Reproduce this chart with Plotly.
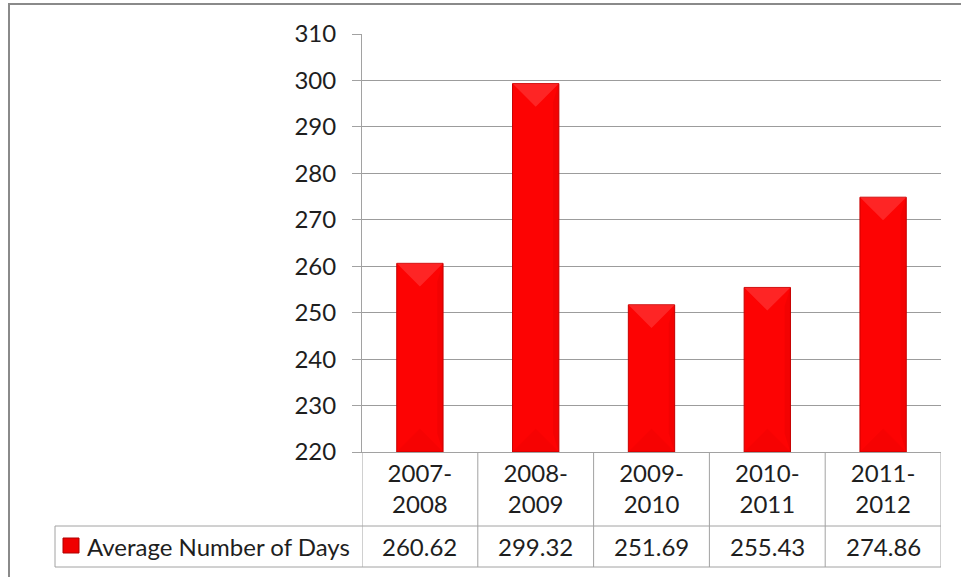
import plotly.graph_objects as go

categories = ["2007-2008", "2008-2009", "2009-2010", "2010-2011", "2011-2012"]
values = [260.62, 299.32, 251.69, 255.43, 274.86]
value_labels = ["260.62", "299.32", "251.69", "255.43", "274.86"]
series_name = "Average Number of Days"
y_ticks = list(range(220, 311, 10))

W, H = 961, 577
ML, MR, MT, MB = 362, 20, 34, 125
PW, PH = W - ML - MR, H - MT - MB
YMIN, YMAX = 220, 310
BARW = 0.4

FONT = "Lato"
FS = 24
TXT = "#1e1e1e"
GRID = "#9c9c9c"
BORDER = "#a2a2a2"

def px_y(py):  # pixel row -> paper y
    return (MT + PH - py) / PH

def px_x(px):  # pixel col -> paper x
    return (px - ML) / PW

x_idx = list(range(len(categories)))
tick_text = [c.replace("-", "-<br>") for c in categories]

fig = go.Figure()
fig.add_trace(go.Bar(
    x=x_idx, y=[v - YMIN for v in values], base=YMIN, width=BARW,
    marker=dict(color="#fd0303", line=dict(color="#c80000", width=1)),
    name=series_name, showlegend=False, hoverinfo="skip",
))

# bevel facets (derived from the data values and axis scale)
units_per_px = (YMAX - YMIN) / PH
cat_px = PW / len(categories)
d = (BARW / 2) * cat_px * units_per_px
for i, v in zip(x_idx, values):
    l, r = i - BARW / 2, i + BARW / 2
    fig.add_trace(go.Scatter(
        x=[l, r, i, l], y=[v, v, v - d, v], fill="toself", mode="lines",
        line=dict(width=0), fillcolor="rgba(255,90,90,0.4)",
        showlegend=False, hoverinfo="skip"))
    fig.add_trace(go.Scatter(
        x=[l, r, i, l], y=[YMIN, YMIN, YMIN + d, YMIN], fill="toself", mode="lines",
        line=dict(width=0), fillcolor="rgba(190,0,0,0.10)",
        showlegend=False, hoverinfo="skip"))
    fig.add_trace(go.Scatter(
        x=[r - 0.05, r, r, r - 0.05, r - 0.05], y=[v - d * 0.8, v, YMIN, YMIN + d * 0.8, v - d * 0.8],
        fill="toself", mode="lines", line=dict(width=0), fillcolor="rgba(170,0,0,0.12)",
        showlegend=False, hoverinfo="skip"))

shapes = []
line = dict(color=BORDER, width=1)
# table verticals
for k in range(len(categories) + 1):
    shapes.append(dict(type="line", xref="x", yref="paper", x0=k - 0.5, x1=k - 0.5,
                       y0=0, y1=px_y(567), line=line, layer="above"))
# table horizontals
for py in (526, 567):
    shapes.append(dict(type="line", xref="paper", yref="paper", x0=px_x(55), x1=1,
                       y0=px_y(py), y1=px_y(py), line=line))
shapes.append(dict(type="line", xref="paper", yref="paper", x0=px_x(55), x1=px_x(55),
                   y0=px_y(526), y1=px_y(567), line=line))
# legend key
shapes.append(dict(type="rect", xref="paper", yref="paper", x0=px_x(63), x1=px_x(79),
                   y0=px_y(553), y1=px_y(538), fillcolor="#f00000",
                   line=dict(color="#b00000", width=1)))
# outer chart border
shapes.append(dict(type="rect", xref="paper", yref="paper", x0=px_x(9), x1=px_x(1000),
                   y0=px_y(4), y1=px_y(620), line=dict(color="#8a8a8a", width=2)))

annotations = [dict(xref="paper", yref="paper", x=px_x(85), y=px_y(546), xanchor="left",
                    yanchor="middle", text=series_name, showarrow=False,
                    font=dict(family=FONT, size=FS, color=TXT))]
for i, t in zip(x_idx, value_labels):
    annotations.append(dict(xref="x", yref="paper", x=i, y=px_y(546), xanchor="center",
                            yanchor="middle", text=t, showarrow=False,
                            font=dict(family=FONT, size=FS, color=TXT)))

fig.update_layout(
    width=W, height=H, margin=dict(l=ML, r=MR, t=MT, b=MB),
    paper_bgcolor="white", plot_bgcolor="white",
    shapes=shapes, annotations=annotations, showlegend=False,
    font=dict(family=FONT, size=FS, color=TXT),
    xaxis=dict(range=[-0.5, len(categories) - 0.5], tickvals=x_idx, ticktext=tick_text,
               showgrid=False, showline=True, linecolor=BORDER, ticks="",
               ticklabelstandoff=0, tickfont=dict(family=FONT, size=FS, color=TXT),
               fixedrange=True),
    yaxis=dict(range=[YMIN, YMAX], tickvals=y_ticks, showgrid=True, gridcolor=GRID,
               gridwidth=1, showline=True, linecolor=BORDER, ticks="outside", ticklen=9,
               tickcolor=BORDER, ticklabelstandoff=11, zeroline=False,
               tickfont=dict(family=FONT, size=FS, color=TXT), fixedrange=True),
    bargap=0.6,
)

fig.write_html("out.html", config={"displayModeBar": False},
               post_script="document.body.style.margin='0';document.body.style.overflow='hidden';")
